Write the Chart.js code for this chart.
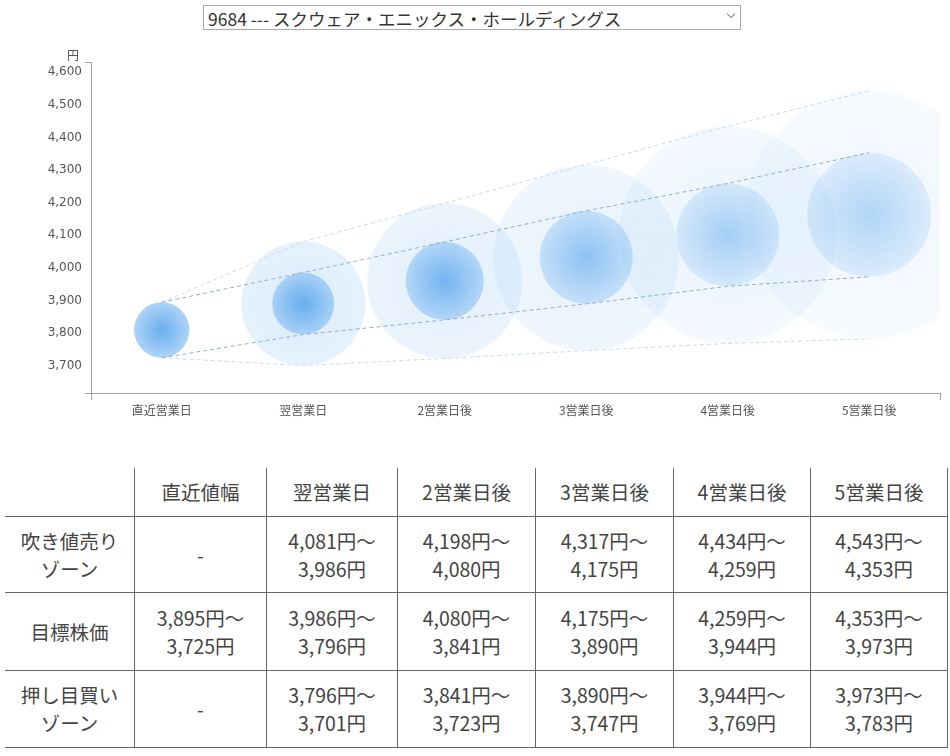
<!DOCTYPE html>
<html lang="ja">
<head>
<meta charset="utf-8">
<title>9684 スクウェア・エニックス・ホールディングス</title>
<script src="https://cdn.jsdelivr.net/npm/chart.js@4.4.1/dist/chart.umd.min.js"></script>
<style>
  body { margin: 0; background: #fff; font-family: "Noto Sans CJK JP", sans-serif; color: #444; }
  #picker {
    position: absolute; left: 203px; top: 5px; width: 538px; height: 25px;
    box-sizing: border-box; border: 1px solid #a9a9a9; background: #fff;
    font-family: "Noto Sans CJK JP", sans-serif; font-size: 17.5px; color: #333;
    padding: 0 0 0 4px; appearance: none; -webkit-appearance: none; outline: none;
  }
  #chevron {
    position: absolute; left: 728px; top: 11px; width: 5px; height: 5px;
    border-right: 1px solid #888; border-bottom: 1px solid #888; transform: rotate(45deg);
  }
  #chart-box { position: absolute; left: 0; top: 40px; width: 950px; height: 390px; }
  #zones {
    position: absolute; left: 5px; top: 468px; width: 936px;
    border-collapse: collapse; table-layout: fixed; font-size: 19.5px; color: #444;
  }
  #zones th, #zones td {
    border-right: 1px solid #666; border-bottom: 1px solid #666;
    text-align: center; font-weight: normal; line-height: 28px; padding: 0;
  }
  #zones thead th { height: 48px; }
</style>
</head>
<body>
<select id="picker"><option>9684 --- スクウェア・エニックス・ホールディングス</option></select>
<div id="chevron"></div>
<div id="chart-box"><canvas id="range-chart"></canvas></div>
<table id="zones"></table>

<script>
const days = ["直近営業日", "翌営業日", "2営業日後", "3営業日後", "4営業日後", "5営業日後"];
const tableHeads = ["直近値幅", "翌営業日", "2営業日後", "3営業日後", "4営業日後", "5営業日後"];
const rowNames = ["吹き値売り<br>ゾーン", "目標株価", "押し目買い<br>ゾーン"];

// 目標株価
const targetHigh = [3895, 3986, 4080, 4175, 4259, 4353];
const targetLow = [3725, 3796, 3841, 3890, 3944, 3973];
// 吹き値売りゾーン
const sellHigh = [null, 4081, 4198, 4317, 4434, 4543];
const sellLow = [null, 3986, 4080, 4175, 4259, 4353];
// 押し目買いゾーン
const buyHigh = [null, 3796, 3841, 3890, 3944, 3973];
const buyLow = [null, 3701, 3723, 3747, 3769, 3783];

const yMin = 3617;
const yMax = 4631;
const yTicks = [3700, 3800, 3900, 4000, 4100, 4200, 4300, 4400, 4500, 4600];

// circles get paler the further out the day is
const innerFade = [[0.77, 0.42], [0.72, 0.34], [0.66, 0.3], [0.52, 0.22], [0.4, 0.15], [0.34, 0.13]];
const outerFade = [null, [0.19, 0.13], [0.16, 0.1], [0.13, 0.08], [0.11, 0.06], [0.09, 0.04]];

function drawTable() {
  const yen = v => v.toLocaleString("en-US") + "円";
  const cell = (hi, lo) => hi == null ? "-" : yen(hi) + "〜<br>" + yen(lo);
  let html = "<thead><tr><th style='width:129px'></th>";
  tableHeads.forEach((h, i) => {
    const w = [131, 130, 137, 137, 136, 136][i];
    html += "<th style='width:" + w + "px'>" + h + "</th>";
  });
  html += "</tr></thead><tbody>";
  const rows = [[sellHigh, sellLow], [targetHigh, targetLow], [buyHigh, buyLow]];
  const heights = [76, 78, 77];
  rows.forEach((r, k) => {
    html += "<tr style='height:" + heights[k] + "px'><td>" + rowNames[k] + "</td>";
    days.forEach((d, i) => { html += "<td>" + cell(r[0][i], r[1][i]) + "</td>"; });
    html += "</tr>";
  });
  html += "</tbody>";
  document.getElementById("zones").innerHTML = html;
}

// one soft disc spanning hi..lo on the y scale, centred on category i
function disc(chart, i, hi, lo, fade) {
  const c = chart.ctx;
  const x = chart.scales.x.getPixelForValue(i);
  const yTop = chart.scales.y.getPixelForValue(hi);
  const yBot = chart.scales.y.getPixelForValue(lo);
  const cy = (yTop + yBot) / 2;
  const r = (yBot - yTop) / 2;
  const g = c.createRadialGradient(x, cy, 0, x, cy, r);
  g.addColorStop(0, "rgba(60,150,235," + fade[0] + ")");
  g.addColorStop(1, "rgba(60,150,235," + fade[1] + ")");
  c.fillStyle = g;
  c.beginPath();
  c.arc(x, cy, r, 0, Math.PI * 2);
  c.fill();
}

const zoneCircles = {
  id: "zoneCircles",
  beforeDatasetsDraw(chart) {
    const a = chart.chartArea;
    const c = chart.ctx;
    c.save();
    c.beginPath();
    c.rect(a.left, a.top, a.right - a.left, a.bottom - a.top);
    c.clip();
    // outer: 吹き値売り上限 .. 押し目買い下限
    days.forEach((d, i) => {
      if (sellHigh[i] != null) disc(chart, i, sellHigh[i], buyLow[i], outerFade[i]);
    });
    // inner: 目標株価
    days.forEach((d, i) => {
      disc(chart, i, targetHigh[i], targetLow[i], innerFade[i]);
    });
    c.restore();
  },
};

const yenUnit = {
  id: "yenUnit",
  afterDraw(chart) {
    const c = chart.ctx;
    c.save();
    c.fillStyle = "#555";
    c.font = "12px 'Noto Sans CJK JP'";
    c.textAlign = "center";
    c.textBaseline = "middle";
    c.fillText("円", chart.chartArea.left - 18, chart.chartArea.top - 7);
    c.restore();
  },
};

function drawChart() {
  const upperLine = sellHigh.map((v, i) => v ?? targetHigh[i]);
  const lowerLine = buyLow.map((v, i) => v ?? targetLow[i]);

  const dashed = (label, data, color) => ({
    label: label, data: data, borderColor: color, borderWidth: 1, borderDash: [4, 3],
    pointRadius: 0, tension: 0, fill: false,
  });

  const edgeTick = "#a0a0a0";

  const config = {
    type: "line",
    data: {
      labels: days,
      datasets: [
        dashed("目標株価 上限", targetHigh, "#8caed4"),
        dashed("目標株価 下限", targetLow, "#8caed4"),
        dashed("吹き値売り 上限", upperLine, "#c8dcee"),
        dashed("押し目買い 下限", lowerLine, "#c8dcee"),
      ],
    },
    options: {
      responsive: true,
      maintainAspectRatio: false,
      animation: false,
      events: [],
      layout: { padding: { top: 22, right: 10, left: 0, bottom: 0 } },
      scales: {
        x: {
          type: "category",
          offset: true,
          grid: {
            offset: true, drawOnChartArea: false, tickLength: 7,
            color: ctx => (ctx.type !== "tick" || ctx.index === 0) ? edgeTick : "rgba(0,0,0,0)",
          },
          border: { color: edgeTick },
          ticks: { color: "#555", font: { family: "'Noto Sans CJK JP'", size: 12 }, maxRotation: 0, autoSkip: false },
          afterFit: s => { s.height = 37; },
        },
        y: {
          type: "linear",
          min: yMin,
          max: yMax,
          afterBuildTicks: axis => {
            axis.ticks = [yMin, ...yTicks, yMax].map(v => ({ value: v }));
          },
          grid: {
            drawOnChartArea: false, tickLength: 6,
            color: ctx => (ctx.tick && (ctx.tick.value === yMin || ctx.tick.value === yMax)) ? edgeTick : "rgba(0,0,0,0)",
          },
          border: { color: edgeTick },
          ticks: {
            color: "#555",
            font: { family: "'DejaVu Sans'", size: 12 },
            callback: v => yTicks.includes(v) ? v.toLocaleString("en-US") : "",
          },
          afterFit: s => { s.width = 91; },
        },
      },
      plugins: {
        legend: { display: false },
        tooltip: { enabled: false },
      },
    },
    plugins: [zoneCircles, yenUnit],
  };

  new Chart(document.getElementById("range-chart").getContext("2d"), config);
}

drawTable();
drawChart();
</script>
</body>
</html>
